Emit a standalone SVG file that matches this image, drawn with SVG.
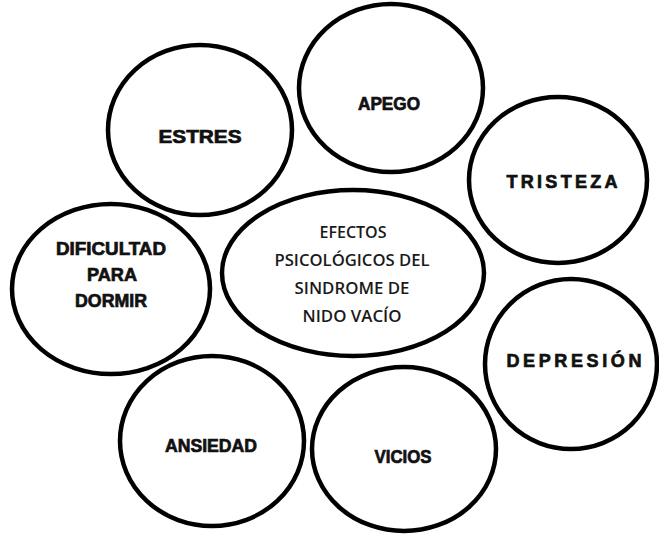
<svg xmlns="http://www.w3.org/2000/svg" width="659" height="534" viewBox="0 0 659 534">
<style>
.n{fill:#fff;stroke:#000;stroke-width:4.5}
.b{font-family:"Liberation Sans",Arial,sans-serif;font-weight:900;font-size:18px;fill:#111;stroke:#111;stroke-width:0.7;text-anchor:middle}
.c{font-family:"Open Sans","Liberation Sans",sans-serif;font-weight:600;font-size:16px;fill:#1a1a1a;text-anchor:middle}
</style>
<rect width="659" height="534" fill="#fff"/>
<g id="connectors"></g>
<g id="estres"><ellipse class="n" cx="200" cy="130" rx="92" ry="85"/><text class="b" x="200" y="143" textLength="83" lengthAdjust="spacingAndGlyphs">ESTRES</text></g>
<g id="apego"><ellipse class="n" cx="391" cy="88" rx="92" ry="84"/><text class="b" x="389" y="110" textLength="62" lengthAdjust="spacingAndGlyphs">APEGO</text></g>
<g id="tristeza"><ellipse class="n" cx="558" cy="180" rx="89" ry="83"/><text class="b" x="562" y="188" font-size="18.5" textLength="111" lengthAdjust="spacing">TRISTEZA</text></g>
<g id="dificultad"><ellipse class="n" cx="111" cy="289" rx="99" ry="85"/><text class="b" x="111" y="255" textLength="110" lengthAdjust="spacingAndGlyphs">DIFICULTAD</text><text class="b" x="112" y="281" textLength="50" lengthAdjust="spacingAndGlyphs">PARA</text><text class="b" x="111" y="307" textLength="72" lengthAdjust="spacingAndGlyphs">DORMIR</text></g>
<g id="centro"><ellipse class="n" cx="353" cy="273" rx="131" ry="83"/><text class="c" x="353" y="238" textLength="67" lengthAdjust="spacingAndGlyphs">EFECTOS</text><text class="c" x="352" y="266" textLength="155" lengthAdjust="spacingAndGlyphs">PSICOLÓGICOS DEL</text><text class="c" x="352" y="294" textLength="115" lengthAdjust="spacingAndGlyphs">SINDROME DE</text><text class="c" x="352" y="322" textLength="99" lengthAdjust="spacingAndGlyphs">NIDO VACÍO</text></g>
<g id="depresion"><ellipse class="n" cx="571" cy="364" rx="86" ry="85"/><text class="b" x="574" y="367" font-size="19" textLength="135" lengthAdjust="spacing">DEPRESIÓN</text></g>
<g id="ansiedad"><ellipse class="n" cx="212" cy="441" rx="92" ry="85"/><text class="b" x="211" y="452" textLength="92" lengthAdjust="spacingAndGlyphs">ANSIEDAD</text></g>
<g id="vicios"><ellipse class="n" cx="404" cy="449" rx="92" ry="82"/><text class="b" x="403" y="463" textLength="57" lengthAdjust="spacingAndGlyphs">VICIOS</text></g>
</svg>
